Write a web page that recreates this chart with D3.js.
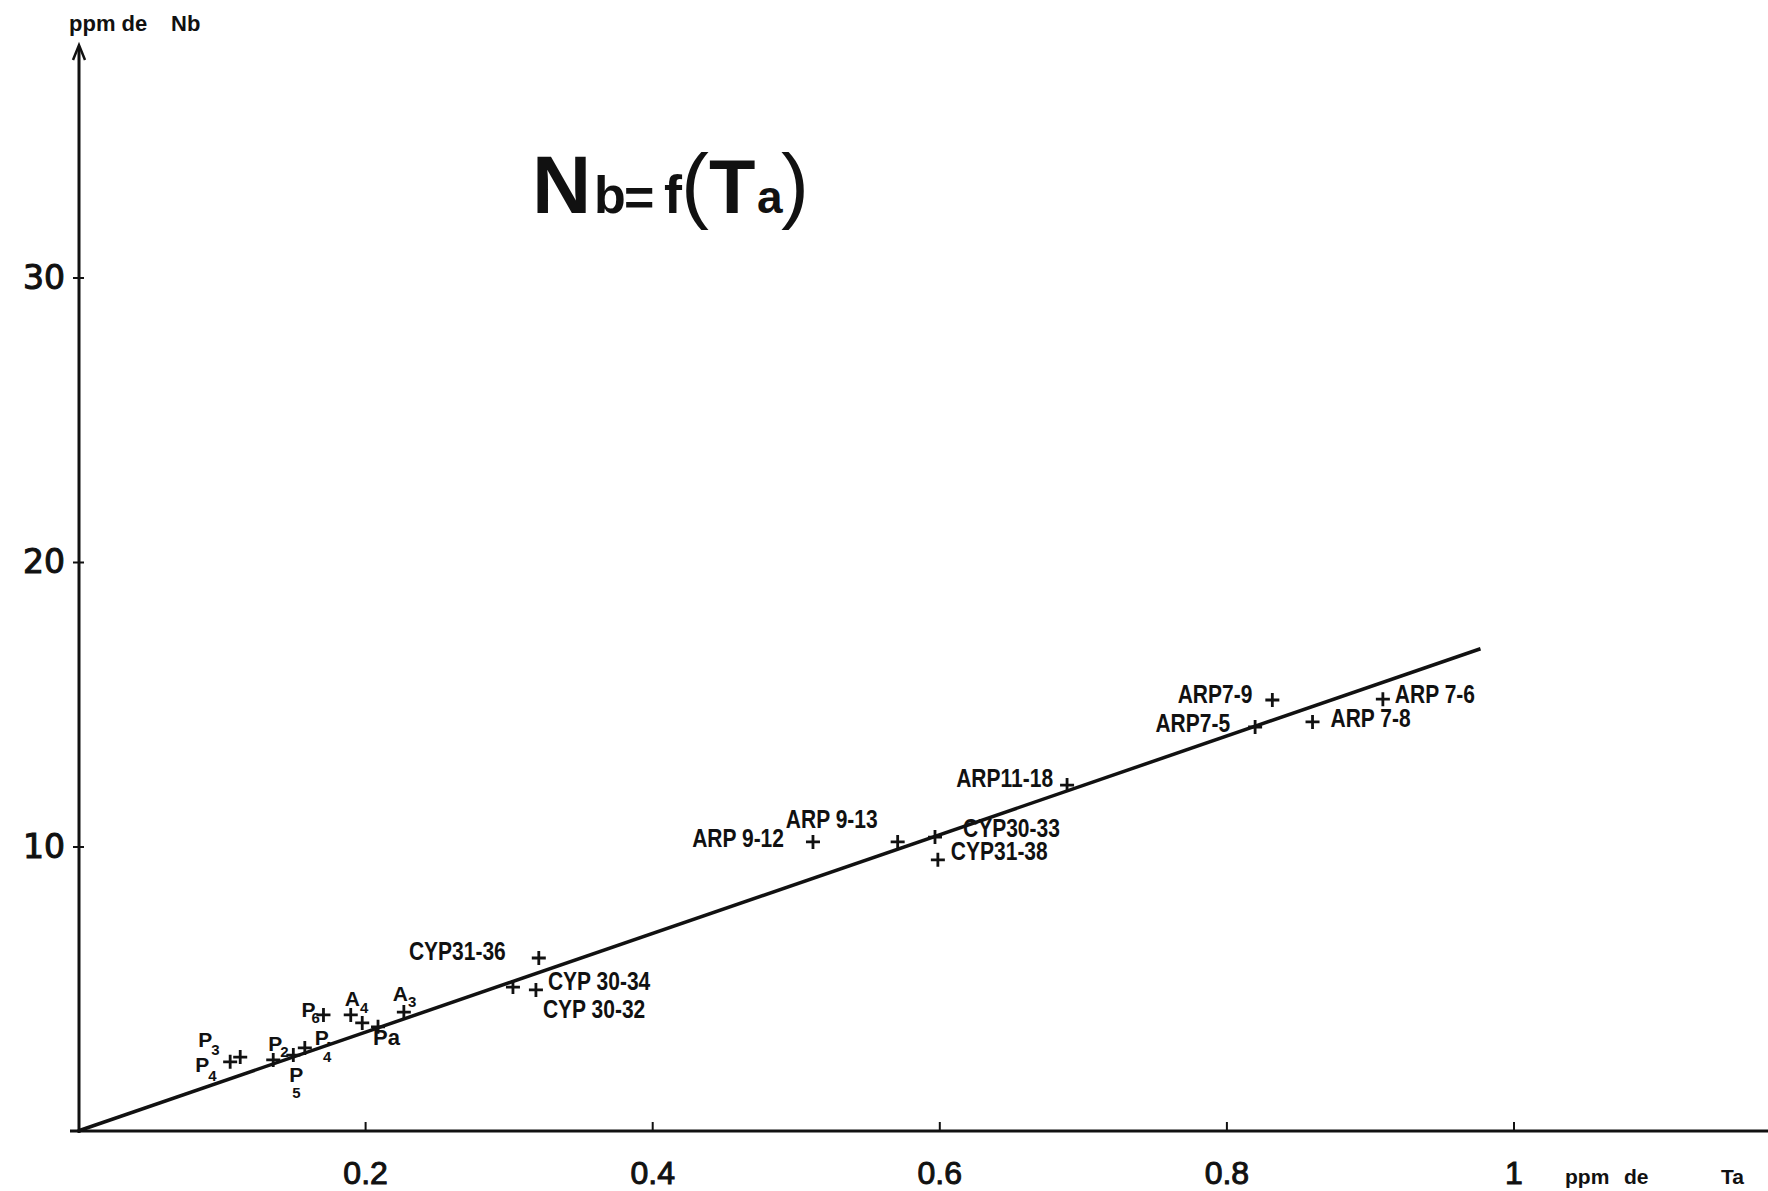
<!DOCTYPE html>
<html>
<head>
<meta charset="utf-8">
<script src="https://cdn.jsdelivr.net/npm/d3@7"></script>
<style>
  html, body { margin: 0; padding: 0; background: #fff; }
  svg { display: block; }
</style>
</head>
<body>
<svg id="chart" width="1768" height="1191"></svg>
<script>
// Nb versus Ta (ppm) for the analysed samples, with the fitted line through the origin.
const sampleIds = ["P4", "P3", "P2", "P5", "P4b", "P6", "A4", "A4b", "Pa", "A3",
  "CYP 30-32", "CYP 30-34", "CYP31-36", "ARP 9-12", "ARP 9-13", "CYP30-33",
  "CYP31-38", "ARP11-18", "ARP7-5", "ARP 7-8", "ARP7-9", "ARP 7-6"];
const taPpm = [0.106, 0.113, 0.136, 0.150, 0.158, 0.171, 0.190, 0.198, 0.209, 0.227,
  0.303, 0.319, 0.321, 0.512, 0.571, 0.597,
  0.599, 0.689, 0.820, 0.860, 0.832, 0.909];
const nbPpm = [2.43, 2.60, 2.50, 2.67, 2.92, 4.08, 4.08, 3.80, 3.66, 4.18,
  5.06, 4.96, 6.08, 10.16, 10.16, 10.33,
  9.53, 12.16, 14.20, 14.38, 15.15, 15.18];
const labelMain = ["P", "P", "P", "P", "P.", "P", "A", "", "Pa", "A",
  "CYP 30-32", "CYP 30-34", "CYP31-36", "ARP 9-12", "ARP 9-13", "CYP30-33",
  "CYP31-38", "ARP11-18", "ARP7-5", "ARP 7-8", "ARP7-9", "ARP 7-6"];
const labelSub = ["4", "3", "2", "5", "4", "6", "4", "", "", "3",
  "", "", "", "", "", "", "", "", "", "", "", ""];

// Fitted line Nb = f(Ta), drawn between these two end points.
const fitTa = [0, 0.977];
const fitNb = [0, 16.95];

const xTicks = [0.2, 0.4, 0.6, 0.8, 1];
const xTickLabels = ["0.2", "0.4", "0.6", "0.8", "1"];
const yTicks = [10, 20, 30];
const yTickLabels = ["10", "20", "30"];

// Label placement relative to each cross (pixels).
const labelPlacement = {
  "P4":  { dx: -35, dy: 10,  size: 21, drop: 9,  subDx: -1 },
  "P3":  { dx: -42, dy: -10, size: 21, drop: 8,  subDx: -1 },
  "P2":  { dx: -5,  dy: -9,  size: 21, drop: 6,  subDx: -2 },
  "P5":  { dx: -4,  dy: 27,  size: 21, drop: 16, subDx: -11 },
  "P4b": { dx: 10,  dy: -3,  size: 21, drop: 17, subDx: -9 },
  "P6":  { dx: -22, dy: 2,   size: 21, drop: 6,  subDx: -4 },
  "A4":  { dx: -6,  dy: -9,  size: 21, drop: 7,  subDx: 0 },
  "Pa":  { dx: -5,  dy: 18,  size: 22 },
  "A3":  { dx: -11, dy: -11, size: 21, drop: 6,  subDx: 0 },
  "CYP 30-32": { dx: 30,  dy: 31 },
  "CYP 30-34": { dx: 12,  dy: 0 },
  "CYP31-36":  { dx: -33, dy: 2,  anchor: "end" },
  "ARP 9-12":  { dx: -29, dy: 5,  anchor: "end" },
  "ARP 9-13":  { dx: -20, dy: -14, anchor: "end" },
  "CYP30-33":  { dx: 28,  dy: 0 },
  "CYP31-38":  { dx: 13,  dy: 0 },
  "ARP11-18":  { dx: -14, dy: 2,  anchor: "end" },
  "ARP7-5":    { dx: -25, dy: 5,  anchor: "end" },
  "ARP 7-8":   { dx: 18,  dy: 5 },
  "ARP7-9":    { dx: -20, dy: 3,  anchor: "end" },
  "ARP 7-6":   { dx: 12,  dy: 4 }
};

const W = 1768, H = 1191;
const svg = d3.select("#chart");
const ink = "#111";
const sans = "'Liberation Sans', Arial, Helvetica, sans-serif";

const x = d3.scaleLinear().domain([0, 1]).range([78, 1513.5]);
const y = d3.scaleLinear().domain([0, 30]).range([1131, 277.5]);

// Axis lines (x runs to the page edge, y ends in an arrow)
svg.append("line")
  .attr("x1", x(0) - 8).attr("x2", W).attr("y1", y(0)).attr("y2", y(0))
  .attr("stroke", ink).attr("stroke-width", 3);
svg.append("line")
  .attr("x1", x(0) + 1).attr("x2", x(0) + 1).attr("y1", y(0) + 2).attr("y2", 47)
  .attr("stroke", ink).attr("stroke-width", 3);
svg.append("path")
  .attr("d", `M${x(0) - 5},60 L${x(0) + 1},45 L${x(0) + 7},60`)
  .attr("fill", "none").attr("stroke", ink).attr("stroke-width", 2.5);

// X axis ticks and labels
const xAxis = d3.axisBottom(x)
  .tickValues(xTicks)
  .tickFormat((d, i) => xTickLabels[i])
  .tickSize(-9)
  .tickPadding(30);
const gx = svg.append("g")
  .attr("transform", `translate(0,${y(0)})`)
  .call(xAxis);
gx.select(".domain").remove();
gx.selectAll(".tick line").attr("stroke", ink).attr("stroke-width", 2);
gx.selectAll(".tick text")
  .attr("fill", ink)
  .style("font-family", sans)
  .style("font-size", "32px")
  .style("font-weight", "normal")
  .attr("stroke", ink).attr("stroke-width", 1);

// Y axis ticks and labels
const yAxis = d3.axisLeft(y)
  .tickValues(yTicks)
  .tickFormat((d, i) => yTickLabels[i])
  .tickSize(6)
  .tickPadding(8);
const gy = svg.append("g")
  .attr("transform", `translate(${x(0) + 1},0)`)
  .call(yAxis);
gy.select(".domain").remove();
gy.selectAll(".tick line").attr("x1", 5).attr("stroke", ink).attr("stroke-width", 2);
gy.selectAll(".tick text")
  .attr("fill", ink)
  .style("font-family", "'DejaVu Sans', sans-serif")
  .style("font-size", "33px")
  .attr("stroke", ink).attr("stroke-width", 1.1);

// Axis titles
const yTitle = svg.append("text")
  .attr("y", 31)
  .attr("fill", ink)
  .style("font-family", sans)
  .style("font-size", "22px")
  .style("font-weight", "bold");
yTitle.append("tspan").attr("x", 69).text("ppm de");
yTitle.append("tspan").attr("x", 171).text("Nb");

const xTitle = svg.append("text")
  .attr("y", 1184)
  .attr("fill", ink)
  .style("font-family", sans)
  .style("font-size", "21px")
  .style("font-weight", "bold");
xTitle.append("tspan").attr("x", 1565).text("ppm");
xTitle.append("tspan").attr("x", 1624).text("de");
xTitle.append("tspan").attr("x", 1721).text("Ta");

// Chart title Nb = f(Ta), each glyph group set at its own position
const title = svg.append("text")
  .attr("y", 213)
  .attr("fill", ink)
  .style("font-family", sans)
  .style("font-weight", "bold");
title.append("tspan").attr("x", 532).style("font-size", "82px").text("N");
title.append("tspan").attr("x", 594).style("font-size", "52px").text("b");
title.append("tspan").attr("x", 624).attr("dy", 2).style("font-size", "52px").text("=");
title.append("tspan").attr("x", 664).attr("dy", -2).style("font-size", "54px").text("f");
title.append("tspan").attr("x", 681).style("font-size", "84px").style("font-weight", "normal").text("(");
title.append("tspan").attr("x", 709).style("font-size", "76px").text("T");
title.append("tspan").attr("x", 757).style("font-size", "46px").text("a");
title.append("tspan").attr("x", 781).style("font-size", "84px").style("font-weight", "normal").text(")");

// Fitted line
const fitLine = d3.line().x((d, i) => x(fitTa[i])).y((d, i) => y(fitNb[i]));
svg.append("path")
  .datum(fitTa)
  .attr("d", fitLine)
  .attr("fill", "none")
  .attr("stroke", ink)
  .attr("stroke-width", 3.5);

// Sample crosses
const samples = sampleIds.map((id, i) => ({
  id, ta: taPpm[i], nb: nbPpm[i], main: labelMain[i], sub: labelSub[i]
}));

const crossArm = 7;
const marks = svg.append("g").selectAll("g")
  .data(samples)
  .join("g")
  .attr("transform", d => `translate(${x(d.ta)},${y(d.nb)})`);
marks.append("path")
  .attr("d", `M${-crossArm},0H${crossArm}M0,${-crossArm}V${crossArm}`)
  .attr("stroke", ink)
  .attr("stroke-width", 2.8)
  .attr("fill", "none");

// Sample labels: long sample names are set in a condensed bold face
const labels = svg.append("g").selectAll("text")
  .data(samples.filter(d => d.main))
  .join("text")
  .attr("transform", d => {
    const p = labelPlacement[d.id];
    const sx = p.size ? 1 : 0.84;
    return `translate(${x(d.ta) + p.dx},${y(d.nb) + p.dy}) scale(${sx},1)`;
  })
  .attr("text-anchor", d => labelPlacement[d.id].anchor || "start")
  .attr("fill", ink)
  .style("font-family", sans)
  .style("font-weight", "bold")
  .style("font-size", d => (labelPlacement[d.id].size || 25) + "px");
labels.append("tspan").text(d => d.main);
labels.filter(d => d.sub)
  .append("tspan")
  .attr("dx", d => labelPlacement[d.id].subDx || 0)
  .attr("dy", d => labelPlacement[d.id].drop)
  .style("font-size", "15px")
  .text(d => d.sub);
</script>
</body>
</html>
